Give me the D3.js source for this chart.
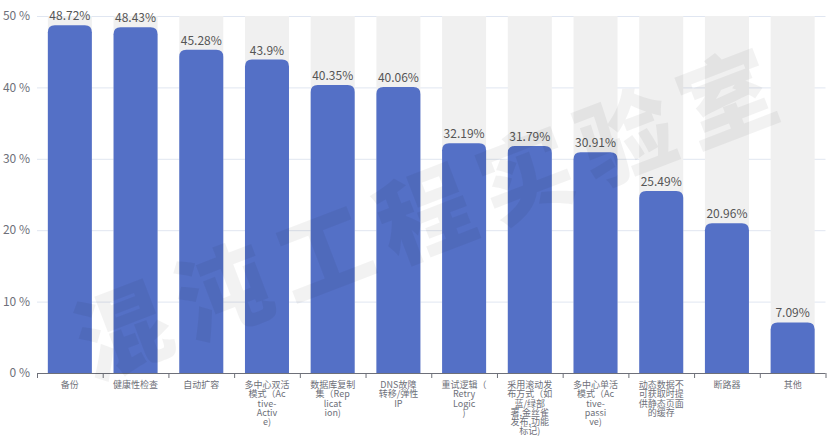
<!DOCTYPE html>
<html><head><meta charset="utf-8">
<script src="https://cdn.jsdelivr.net/npm/d3@7/dist/d3.min.js"></script>
<style>body{margin:0;background:#fff;}svg{display:block;font-family:"Noto Sans CJK SC","Noto Sans",sans-serif;}</style>
</head><body><svg id="c" width="832" height="436"></svg>
<script>
const categories = ["备份","健康性检查","自动扩容","多中心双活模式（Active-Active)","数据库复制集（Replication)","DNS故障转移/弹性IP","重试逻辑（Retry Logic)","采用滚动发布方式（如蓝/绿部署,金丝雀发布,功能标记)","多中心单活模式（Active-passive)","动态数据不可获取时提供静态页面的缓存","断路器","其他"];
const labelLines = [["备份"],["健康性检查"],["自动扩容"],["多中心双活","模式（Ac","tive-","Activ","e)"],["数据库复制","集（Rep","licat","ion)"],["DNS故障","转移/弹性","IP"],["重试逻辑（","Retry","Logic",")"],["采用滚动发","布方式（如","蓝/绿部","署,金丝雀","发布,功能","标记)"],["多中心单活","模式（Ac","tive-","passi","ve)"],["动态数据不","可获取时提","供静态页面","的缓存"],["断路器"],["其他"]];
const values = [48.72,48.43,45.28,43.9,40.35,40.06,32.19,31.79,30.91,25.49,20.96,7.09];
const yTicks = [0,10,20,30,40,50];

(function(){
const svg = d3.select("#c");
const mL = 37, mR = 825.5, mT = 16, mB = 373;
const x = d3.scaleBand().domain(categories).range([mL,mR]).paddingInner(0.33).paddingOuter(0.165);
const y = d3.scaleLinear().domain([0,50]).range([mB,mT]);

svg.append("g").selectAll("line").data(yTicks.filter(d=>d>0)).join("line")
  .attr("x1",mL).attr("x2",mR).attr("y1",d=>y(d)+0.5).attr("y2",d=>y(d)+0.5)
  .attr("stroke","#e0e6f1");
svg.append("g").selectAll("rect").data(categories).join("rect")
  .attr("x",d=>x(d)).attr("width",x.bandwidth()).attr("y",y(50)).attr("height",y(0)-y(50))
  .attr("fill","#f0f0f0");
const r = 7;
svg.append("g").selectAll("path").data(values).join("path")
  .attr("d",(v,i)=>{
    const x0 = x(categories[i]), w = x.bandwidth(), y0 = y(v), y1 = y(0);
    return `M${x0},${y1}V${y0+r}Q${x0},${y0} ${x0+r},${y0}H${x0+w-r}Q${x0+w},${y0} ${x0+w},${y0+r}V${y1}Z`;
  })
  .attr("fill","#5470c6");
svg.append("g").selectAll("text").data(values).join("text")
  .attr("x",(v,i)=>x(categories[i])+x.bandwidth()/2).attr("y",v=>y(v)-5)
  .attr("text-anchor","middle").attr("font-size",12).attr("fill","#555")
  .text(v=>v+"%");
svg.append("g").selectAll("text").data(yTicks).join("text")
  .attr("x",30).attr("y",d=>y(d)).attr("dy","0.35em").attr("text-anchor","end")
  .attr("font-size",12).attr("fill","#6e7079").text(d=>d+" %");
const xa = svg.append("g").attr("transform",`translate(0,${mB})`);
xa.append("line").attr("x1",mL).attr("x2",mR).attr("y1",0.5).attr("y2",0.5).attr("stroke","#6e7079");
const step = x.step();
xa.selectAll("line.t").data(d3.range(categories.length+1)).join("line").attr("class","t")
  .attr("x1",i=>mL+i*step+0.5).attr("x2",i=>mL+i*step+0.5).attr("y1",0).attr("y2",5).attr("stroke","#6e7079");
const lab = xa.selectAll("text").data(labelLines).join("text")
  .attr("text-anchor","middle").attr("font-size",9).attr("fill","#6e7079")
  .attr("transform",(d,i)=>`translate(${x(categories[i])+x.bandwidth()/2},12)`);
lab.selectAll("tspan").data(d=>d).join("tspan").attr("x",0).attr("y",(d,j)=>j*9.2).attr("dy","0.35em").text(d=>d);

svg.append("text").attr("transform","translate(432,214) rotate(-21)")
  .attr("text-anchor","middle").attr("dy","0.35em").attr("font-size",94).attr("font-weight","900")
  .attr("letter-spacing",14).attr("fill","rgba(0,0,0,0.05)").text("混沌工程实验室");
})();
</script></body></html>
